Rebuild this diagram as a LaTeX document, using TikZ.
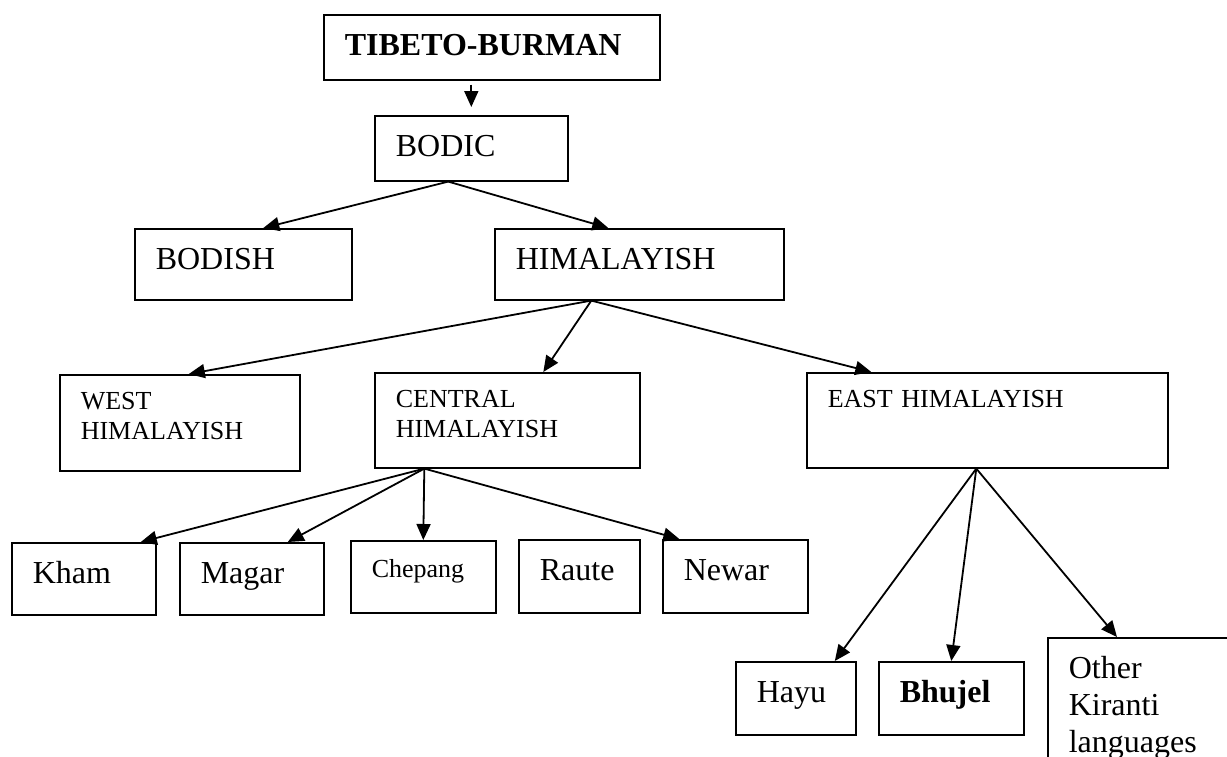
\documentclass[tikz,border=0pt]{standalone}
\usepackage{fontspec}
\setmainfont{Liberation Serif}
\usepackage{tikz}
\usetikzlibrary{arrows.meta}

\begin{document}
\begin{tikzpicture}[x=1pt, y=-1pt,
  box/.style 2 args={draw, line width=1.6pt, inner xsep=21pt, inner ysep=0pt, align=left, anchor=north west,
    text width=#1, text height=41pt, text depth=#2, font=\fontsize{32}{36.8}\selectfont},
  small/.style={font=\fontsize{26}{30}\selectfont, text height=35pt},
  arr/.style={line width=1.8pt, -{Triangle[length=16pt, width=14pt]}}]
\useasboundingbox (0,0) rectangle (1227,756);
\clip (0,0) rectangle (1227,756);
\node[box={294pt}{24pt}] (tb) at (323,14) {\textbf{TIBETO-BURMAN}};
\node[box={151pt}{24pt}] (bodic) at (374,115) {BODIC};
\node[box={175pt}{30pt}] (bodish) at (134,228) {BODISH};
\node[box={247pt}{30pt}] (hima) at (494,228) {HIMALAYISH};
\node[box={198pt}{61pt}, small] (west) at (59,374) {WEST\\HIMALAYISH};
\node[box={223pt}{60pt}, small] (central) at (374,372) {CENTRAL\\HIMALAYISH};
\node[box={319pt}{60pt}, small] (east) at (806,372) {EAST HIMALAYISH};
\node[box={102pt}{31pt}] (kham) at (11,542) {Kham};
\node[box={102pt}{31pt}] (magar) at (179,542) {Magar};
\node[box={103pt}{35pt}, small, text height=37pt] (chepang) at (350,540) {Chepang};
\node[box={79pt}{32pt}] (raute) at (518,539) {Raute};
\node[box={103pt}{32pt}] (newar) at (662,539) {Newar};
\node[box={78pt}{32pt}] (hayu) at (735,661) {Hayu};
\node[box={103pt}{32pt}] (bhujel) at (878,661) {\textbf{Bhujel}};
\node[box={151pt}{101pt}] (other) at (1047,637) {Other\\Kiranti\\languages};
\draw[arr, shorten <=4pt, shorten >=8pt] (tb.south -| bodic.north) -- (bodic.north);
\draw[arr] ([xshift=-23pt]bodic.south) -- ([xshift=20pt]bodish.north); \draw[arr] ([xshift=-23pt]bodic.south) -- ([xshift=-31pt]hima.north);
\draw[arr] ([xshift=-48pt]hima.south) -- ([xshift=9pt]west.north); \draw[arr] ([xshift=-48pt]hima.south) -- ([xshift=36pt]central.north);
\draw[arr] ([xshift=-48pt]hima.south) -- ([xshift=-116pt]east.north);
\draw[arr] ([xshift=-83pt]central.south) -- ([xshift=57pt]kham.north); \draw[arr] ([xshift=-83pt]central.south) -- ([xshift=36pt]magar.north);
\draw[arr] ([xshift=-83pt]central.south) -- (chepang.north); \draw[arr] ([xshift=-83pt]central.south) -- ([xshift=-56pt]newar.north);
\draw[arr] ([xshift=-11pt]east.south) -- ([xshift=39pt]hayu.north); \draw[arr] ([xshift=-11pt]east.south) -- (bhujel.north);
\draw[arr] ([xshift=-11pt]east.south) -- ([xshift=70pt]other.north west);
\end{tikzpicture}
\end{document}
